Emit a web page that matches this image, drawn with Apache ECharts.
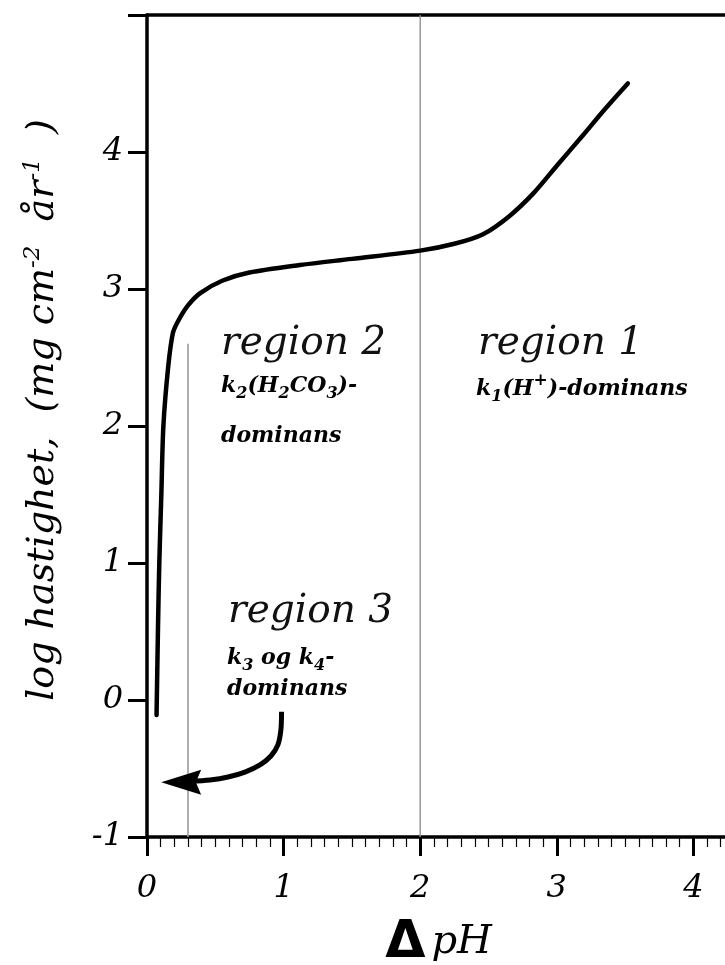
<!DOCTYPE html>
<html>
<head>
<meta charset="utf-8">
<script src="https://cdn.jsdelivr.net/npm/echarts/dist/echarts.min.js"></script>
<style>
  html, body { margin: 0; padding: 0; background: #ffffff; }
  #chart { width: 725px; height: 965px; }
</style>
</head>
<body>
<div id="chart"></div>
<script>
// Dissolution rate (log) versus ΔpH
const curveX = [0.07, 0.08, 0.09, 0.105, 0.12, 0.155, 0.19, 0.23, 0.30, 0.39, 0.55, 0.75, 1.12, 1.5, 2.0, 2.25, 2.46, 2.65, 2.83, 3.0, 3.19, 3.35, 3.52];
const curveY = [-0.11, 0.5, 1.0, 1.5, 2.0, 2.43, 2.68, 2.77, 2.88, 2.97, 3.06, 3.12, 3.175, 3.22, 3.28, 3.33, 3.40, 3.53, 3.70, 3.90, 4.12, 4.31, 4.50];

// region boundaries
const boundary23X = [0.3, 0.3];
const boundary23Y = [-1, 2.6];
const boundary12X = [2, 2];
const boundary12Y = [-1, 5];

// curved pointer towards region 3
const arrowX = [0.985, 0.980, 0.958, 0.907, 0.827, 0.717, 0.593, 0.461, 0.315];
const arrowY = [-0.085, -0.219, -0.328, -0.409, -0.474, -0.526, -0.562, -0.584, -0.595];
const arrowHead = [0.25, -0.6];

const xTickValues = [0, 1, 2, 3, 4];
const yTickValues = [-1, 0, 1, 2, 3, 4];

const pairs = (xs, ys) => xs.map((x, i) => [x, ys[i]]);

const SERIF = '"DejaVu Serif", "Liberation Serif", serif';
const INK = '#000000';

const chart = echarts.init(document.getElementById('chart'), null, { renderer: 'canvas' });

const labelRich = {
  b: { fontFamily: SERIF, fontStyle: 'italic', fontWeight: 'bold', fontSize: 22, color: INK },
  sub: { fontFamily: SERIF, fontStyle: 'italic', fontWeight: 'bold', fontSize: 16, color: INK, padding: [16, 0, 0, 0] },
  sup: { fontFamily: SERIF, fontStyle: 'italic', fontWeight: 'bold', fontSize: 17, color: INK, padding: [0, 0, 16, 0] }
};
const regionStyle = { fontFamily: SERIF, fontStyle: 'italic', fontWeight: 'normal', fontSize: 39, fill: '#111' };

const option = {
  backgroundColor: '#ffffff',
  animation: false,
  grid: { left: 147, right: -105, top: 15, bottom: 128, outerBoundsMode: 'none', containLabel: false },
  xAxis: [{
    type: 'value', position: 'bottom', min: 0, max: 5, interval: 1,
    axisLine: { show: true, onZero: false, lineStyle: { color: INK, width: 3.5 } },
    axisTick: { show: true, length: 19, lineStyle: { color: INK, width: 3 } },
    minorTick: { show: true, splitNumber: 10, length: 10, lineStyle: { color: INK, width: 1.2 } },
    splitLine: { show: false },
    axisLabel: {
      margin: 36, fontFamily: SERIF, fontStyle: 'italic', fontSize: 32, color: INK,
      formatter: v => (xTickValues.includes(v) ? String(v) : '')
    },
    name: '{d|Δ}{p|pH}',
    nameLocation: 'middle', nameGap: 80,
    nameTextStyle: {
      padding: [0, 100, 0, 0],
      rich: {
        d: { fontFamily: '"DejaVu Sans", sans-serif', fontWeight: 'bold', fontSize: 52, color: INK, padding: [0, 6, 0, 0] },
        p: { fontFamily: SERIF, fontStyle: 'italic', fontSize: 40, color: INK }
      }
    }
  }, {
    type: 'value', position: 'top', min: 0, max: 5, interval: 1,
    axisLine: { show: true, onZero: false, lineStyle: { color: INK, width: 3.5 } },
    axisTick: { show: false }, axisLabel: { show: false }, splitLine: { show: false }
  }],
  yAxis: {
    type: 'value', min: -1, max: 5, interval: 1,
    axisLine: { show: true, onZero: false, lineStyle: { color: INK, width: 3.5 } },
    axisTick: { show: true, length: 19, lineStyle: { color: INK, width: 3 } },
    splitLine: { show: false },
    axisLabel: {
      margin: 24, fontFamily: SERIF, fontStyle: 'italic', fontSize: 32, color: INK,
      formatter: v => (yTickValues.includes(v) ? String(v) : '')
    },
    name: 'log hastighet,  (mg cm{s|-2}  år{s|-1}  )',
    nameLocation: 'middle', nameRotate: 90, nameGap: 82,
    nameTextStyle: {
      fontFamily: SERIF, fontStyle: 'italic', fontSize: 38, color: INK,
      padding: [0, 0, 0, 32],
      rich: {
        s: { fontFamily: SERIF, fontStyle: 'italic', fontSize: 23, color: INK, padding: [0, 0, 20, 0] }
      }
    }
  },
  series: [
    {
      name: 'grense 2/3', type: 'line', data: pairs(boundary23X, boundary23Y),
      symbol: 'none', silent: true, z: 1,
      lineStyle: { color: '#9b9b9b', width: 1.6 }
    },
    {
      name: 'grense 1/2', type: 'line', data: pairs(boundary12X, boundary12Y),
      symbol: 'none', silent: true, z: 1,
      lineStyle: { color: '#8f8f8f', width: 1.4 }
    },
    {
      name: 'log hastighet', type: 'line', data: pairs(curveX, curveY),
      symbol: 'none', smooth: 0.3, z: 3,
      lineStyle: { color: INK, width: 4.5, cap: 'round' }
    },
    {
      name: 'pil', type: 'line', data: pairs(arrowX, arrowY),
      symbol: 'none', smooth: 0.3, z: 3,
      lineStyle: { color: INK, width: 5 }
    },
    {
      name: 'pilspiss', type: 'scatter', data: [arrowHead],
      symbol: 'path://M0,12 L38,0 L33,12 L38,24 Z',
      symbolSize: [40, 25], z: 4,
      itemStyle: { color: INK, opacity: 1 }
    }
  ],
  graphic: [
    { type: 'text', x: 221, y: 344, style: Object.assign({ text: 'region 2', verticalAlign: 'middle' }, regionStyle) },
    { type: 'text', x: 221, y: 386, style: { text: '{b|k}{sub|2}{b|(H}{sub|2}{b|CO}{sub|3}{b|)-}', rich: labelRich, verticalAlign: 'middle' } },
    { type: 'text', x: 221, y: 436, style: { text: '{b|dominans}', rich: labelRich, verticalAlign: 'middle' } },
    { type: 'text', x: 478, y: 344, style: Object.assign({ text: 'region 1', verticalAlign: 'middle' }, regionStyle) },
    { type: 'text', x: 476, y: 389, style: { text: '{b|k}{sub|1}{b|(H}{sup|+}{b|)-dominans}', rich: labelRich, verticalAlign: 'middle' } },
    { type: 'text', x: 228, y: 612, style: Object.assign({ text: 'region 3', verticalAlign: 'middle' }, regionStyle) },
    { type: 'text', x: 227, y: 658, style: { text: '{b|k}{sub|3}{b| og k}{sub|4}{b|-}', rich: labelRich, verticalAlign: 'middle' } },
    { type: 'text', x: 227, y: 689, style: { text: '{b|dominans}', rich: labelRich, verticalAlign: 'middle' } }
  ]
};

chart.setOption(option);
</script>
</body>
</html>
